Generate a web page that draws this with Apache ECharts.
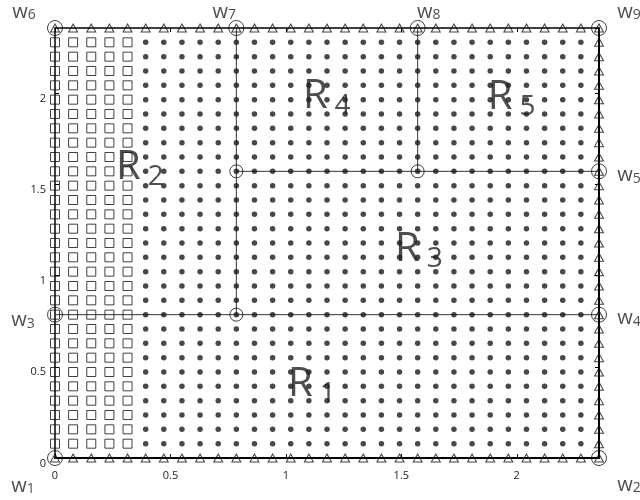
<!DOCTYPE html>
<html>
<head>
<meta charset="utf-8">
<script src="https://cdn.jsdelivr.net/npm/echarts@6/dist/echarts.min.js"></script>
<style>
  html, body { margin: 0; padding: 0; background: #fff; }
  #chart { width: 640px; height: 500px; }
</style>
</head>
<body>
<div id="chart"></div>
<script>
// mesh nodes (k * pi/40, k = 0..30), used for both x and y
var nodes = [0, 0.0785, 0.1571, 0.2356, 0.3142, 0.3927, 0.4712, 0.5498, 0.6283, 0.7069,
  0.7854, 0.8639, 0.9425, 1.0210, 1.0996, 1.1781, 1.2566, 1.3352, 1.4137, 1.4923,
  1.5708, 1.6493, 1.7279, 1.8064, 1.8850, 1.9635, 2.0420, 2.1206, 2.1991, 2.2777, 2.3562];
// columns drawn as hollow squares
var squareXs = [0, 0.0785, 0.1571, 0.2356, 0.3142];
var xTicks = [0, 0.5, 1, 1.5, 2];
var yTicks = [0, 0.5, 1, 1.5, 2];

// vertices w1..w9
var wNames = ["1", "2", "3", "4", "5", "6", "7", "8", "9"];
var wX = [0, 2.3562, 0, 2.3562, 2.3562, 0, 0.7854, 1.5708, 2.3562];
var wY = [0, 0, 0.7854, 0.7854, 1.5708, 2.3562, 2.3562, 2.3562, 2.3562];
// inner vertices (small circles)
var innerX = [0.7854, 0.7854, 1.5708];
var innerY = [0.7854, 1.5708, 1.5708];
// sub-domain interfaces
var cutLines = [
  [[0, 0.7854], [2.3562, 0.7854]],
  [[0.7854, 2.3562], [0.7854, 0.7854]],
  [[0.7854, 1.5708], [2.3562, 1.5708]],
  [[1.5708, 2.3562], [1.5708, 1.5708]]
];
// region labels R1..R5
var regionNames = ["1", "2", "3", "4", "5"];
var regionX = [1.113, 0.368, 1.576, 1.177, 1.978];
var regionY = [0.402, 1.59, 1.142, 1.98, 1.975];

// label offsets for w labels (px)
var wOffsets = [[-32, 28], [30, 27], [-32, 6], [30, 4], [30, 4], [-31, -16], [-12, -16], [11, -16], [30, -16]];

var xMin = nodes[0], xMax = nodes[nodes.length - 1];

var triPts = [], sqPts = [], dotPts = [];
for (var i = 0; i < nodes.length; i++) {
  for (var j = 0; j < nodes.length; j++) {
    var x = nodes[i], y = nodes[j];
    if (j === 0 || j === nodes.length - 1 || i === nodes.length - 1) {
      triPts.push([x, y]);
    } else if (squareXs.indexOf(x) >= 0) {
      sqPts.push([x, y]);
    } else {
      dotPts.push([x, y]);
    }
  }
}

var hollow = { color: "rgba(0,0,0,0)", borderColor: "#111", borderWidth: 1 };
var font = "Open Sans";

var series = [];
cutLines.forEach(function (seg) {
  series.push({
    type: "line", data: seg, symbol: "none", silent: true, z: 1,
    lineStyle: { color: "#333", width: 1 }
  });
});
series.push({
  type: "scatter", data: dotPts, symbol: "circle", symbolSize: 5.5, silent: true, z: 2,
  itemStyle: { color: "#1a1a1a" }
});
series.push({
  type: "scatter", data: sqPts, symbol: "rect", symbolSize: 9, silent: true, z: 2,
  itemStyle: hollow
});
series.push({
  type: "scatter", data: triPts, symbol: "triangle", symbolSize: [9, 8], silent: true, z: 2,
  itemStyle: hollow
});
series.push({
  type: "scatter", symbol: "circle", symbolSize: 13, silent: true, z: 3,
  itemStyle: hollow,
  data: innerX.map(function (x, k) { return [x, innerY[k]]; })
});
series.push({
  type: "scatter", symbol: "circle", symbolSize: 15, silent: true, z: 3,
  itemStyle: hollow,
  data: wX.map(function (x, k) {
    return {
      value: [x, wY[k]],
      label: {
        show: true, position: "inside", offset: wOffsets[k],
        formatter: "{w|w}{n|" + wNames[k] + "}",
        rich: {
          w: { fontFamily: font, fontSize: 20, color: "#222", lineHeight: 20 },
          n: { fontFamily: font, fontSize: 14, color: "#222", padding: [7, 0, 0, 0] }
        }
      }
    };
  })
});
series.push({
  type: "scatter", symbol: "circle", symbolSize: 0, silent: true, z: 4,
  data: regionX.map(function (x, k) {
    return {
      value: [x, regionY[k]],
      label: {
        show: true, position: "inside",
        formatter: "{r|R}{s|" + regionNames[k] + "}",
        rich: {
          r: { fontFamily: font, fontSize: 40, color: "#222", lineHeight: 40 },
          s: { fontFamily: font, fontSize: 28, color: "#222", padding: [18, 0, 0, 7] }
        }
      }
    };
  })
});

function axisBase(pos) {
  return {
    type: "value", position: pos, min: xMin, max: xMax, interval: 0.5,
    splitLine: { show: false },
    axisLine: { show: true, onZero: false, lineStyle: { color: "#000", width: (pos === "bottom" || pos === "right") ? 2 : 1.5 } },
    axisTick: { show: true, inside: true, length: 4, lineStyle: { color: "#000", width: 1 } },
    axisLabel: { show: false }
  };
}

var xBottom = axisBase("bottom");
xBottom.axisLabel = {
  show: true, showMaxLabel: false, color: "#222", fontFamily: font, fontSize: 11, margin: 12,
  formatter: function (v) { return xTicks.indexOf(v) >= 0 ? String(v) : ""; }
};
var yLeft = axisBase("left");
yLeft.axisLabel = {
  show: true, showMaxLabel: false, color: "#222", fontFamily: font, fontSize: 11, margin: 9,
  verticalAlign: "top",
  formatter: function (v) { return yTicks.indexOf(v) >= 0 ? String(v) : ""; }
};

var myChart = echarts.init(document.getElementById("chart"));
myChart.setOption({
  animation: false,
  grid: { left: 55, right: 41, top: 28, bottom: 42 },
  xAxis: [xBottom, axisBase("top")],
  yAxis: [yLeft, axisBase("right")],
  series: series
});
</script>
</body>
</html>
